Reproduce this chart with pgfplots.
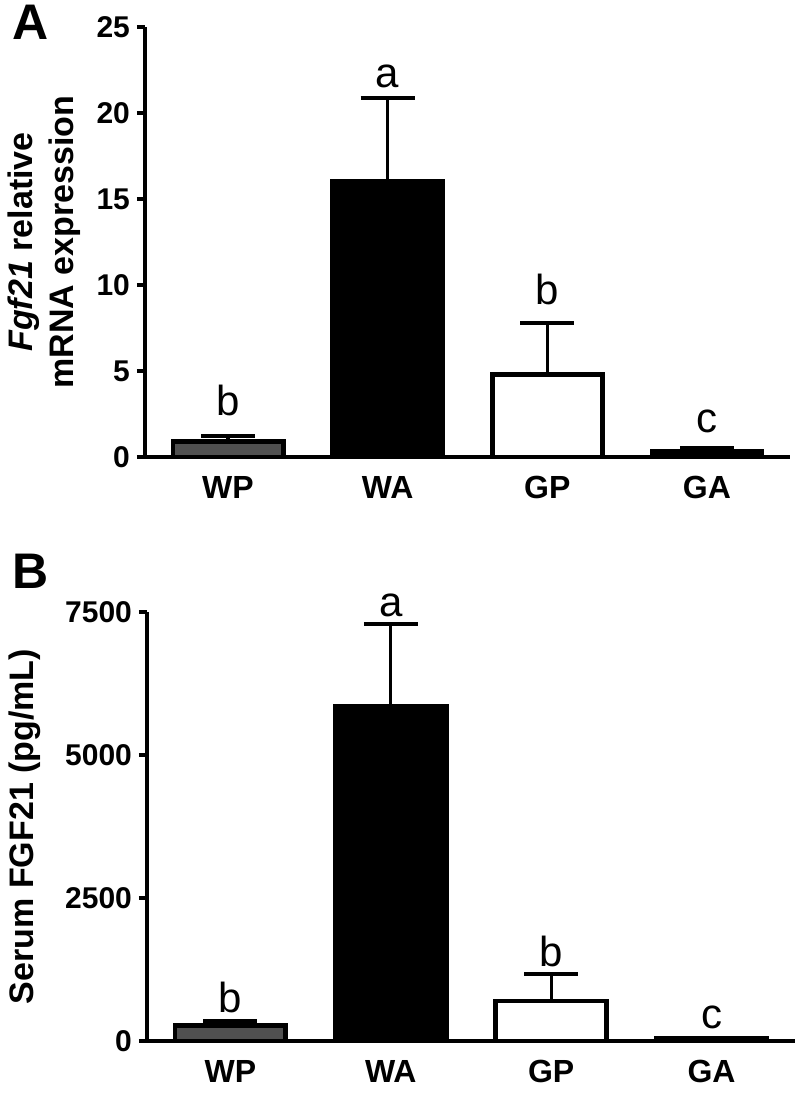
\documentclass[border=0pt]{standalone}
\usepackage{pgfplots}
\pgfplotsset{compat=1.18}
\usepackage{fontspec}
\setmainfont{Liberation Sans}
\definecolor{wpgray}{RGB}{80,80,80}
\tikzset{lett/.style={font=\fontsize{21}{24}\selectfont, anchor=base}}
\pgfplotsset{
  myaxis/.style={
    scale only axis,
    axis x line=bottom, axis y line=left,
    axis line style={-, line width=2.2pt},
    xmin=-0.52, xmax=3.52,
    xtick={0,1,2,3}, xticklabels={WP,WA,GP,GA},
    x tick style={draw=none},
    y tick style={line width=2.2pt, black},
    tick align=outside, major tick length=4pt,
    yticklabel style={font=\fontsize{15}{17}\selectfont\bfseries},
    xticklabel style={font=\fontsize{16}{18}\selectfont\bfseries, yshift=-2pt},
    /pgf/number format/assume math mode=true,
    /pgf/number format/1000 sep={},
    scaled y ticks=false,
    ymin=0,
    clip=false,
    ylabel style={font=\fontsize{17}{20.5}\selectfont\bfseries, align=center, anchor=center},
  },
  mybar/.style={ybar, bar width=0.69, draw=black, line width=2.4pt,
    error bars/y dir=plus, error bars/y explicit,
    error bars/error bar style={line width=1.6pt, black},
    error bars/error mark options={rotate=90, line width=2pt, mark size=13.5pt, black}},
}
\begin{document}
\begin{tikzpicture}
\path[use as bounding box] (0,0) rectangle (400pt,-546.5pt);
\node[anchor=base west, font=\fontsize{25}{28}\selectfont\bfseries] at (2.5pt,-19.5pt) {A};
\node[anchor=base west, font=\fontsize{25}{28}\selectfont\bfseries] at (2.5pt,-294pt) {B};
% Panel A
\begin{axis}[myaxis,
  at={(72.5pt,-13.5pt)}, anchor=north west,
  width=322.5pt, height=215pt,
  ymax=25, ytick={0,5,10,15,20,25},
  ylabel={\textit{Fgf21} relative\\mRNA expression},
  ylabel style={at={(axis description cs:-0.156,0.5)}},
]
\addplot[mybar, fill=wpgray] coordinates {(0,0.9) +- (0,0.3)};
\addplot[mybar, fill=black] coordinates {(1,16.0) +- (0,4.9)};
\addplot[mybar, fill=white] coordinates {(2,4.8) +- (0,3.0)};
\addplot[mybar, fill=black] coordinates {(3,0.35) +- (0,0.15)};
\node[lett] at (axis cs:0,2.44) {b};
\node[lett] at (axis cs:1,21.5) {a};
\node[lett] at (axis cs:2,8.84) {b};
\node[lett] at (axis cs:3,1.45) {c};
\end{axis}
% Panel B
\begin{axis}[myaxis,
  at={(73.5pt,-306pt)}, anchor=north west,
  width=324pt, height=214.5pt,
  ymax=7500, ytick={0,2500,5000,7500},
  ylabel={Serum FGF21 (pg/mL)},
  ylabel style={at={(axis description cs:-0.188,0.5)}},
]
\addplot[mybar, fill=wpgray] coordinates {(0,270) +- (0,80)};
\addplot[mybar, fill=black] coordinates {(1,5850) +- (0,1440)};
\addplot[mybar, fill=white] coordinates {(2,700) +- (0,470)};
\addplot[mybar, fill=black] coordinates {(3,40) +- (0,20)};
\node[lett] at (axis cs:0,507) {b};
\node[lett] at (axis cs:1,7413) {a};
\node[lett] at (axis cs:2,1311) {b};
\node[lett] at (axis cs:3,210) {c};
\end{axis}
\end{tikzpicture}
\end{document}
